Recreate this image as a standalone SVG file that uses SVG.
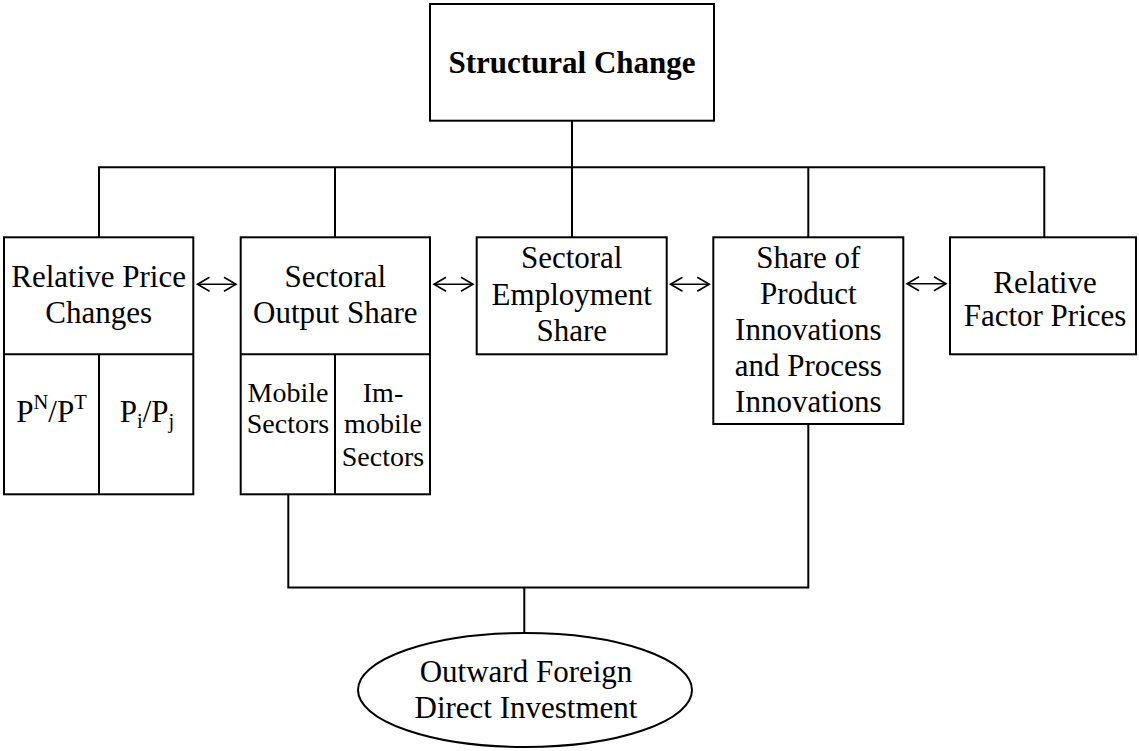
<svg xmlns="http://www.w3.org/2000/svg" width="1139" height="751" viewBox="0 0 1139 751">
<style>
.box{fill:#fff;stroke:#000;stroke-width:2}
.ln{fill:none;stroke:#000;stroke-width:2}
.ar{fill:none;stroke:#000;stroke-width:1.6}
text{font-family:"Liberation Serif","Times New Roman",serif;font-size:31px;fill:#000;text-anchor:middle}
.b{font-weight:bold}
.s{font-size:28px}
</style>
<defs>
<marker id="head" markerUnits="userSpaceOnUse" viewBox="-1 -1 14 16" refX="12" refY="7" markerWidth="14" markerHeight="16" orient="auto-start-reverse" overflow="visible">
<path d="M0,0 L12,7 L0,14" fill="none" stroke="#000" stroke-width="1.6"/>
</marker>
</defs>
<rect width="1139" height="751" fill="#fff"/>
<g id="connectors">
<path class="ln" d="M572,120.7 V167.3 M99,237.3 V167.3 H1044.3 V237.3 M335,167.3 V237.3 M572,167.3 V237.3 M808.3,167.3 V237.3"/>
<path class="ln" d="M288.3,494.3 V587.5 H808.3 V424 M524.3,587.5 V633"/>
<line class="ar" x1="197.5" y1="284.3" x2="236" y2="284.3" marker-start="url(#head)" marker-end="url(#head)"/>
<line class="ar" x1="434" y1="284.3" x2="473" y2="284.3" marker-start="url(#head)" marker-end="url(#head)"/>
<line class="ar" x1="670.5" y1="284.3" x2="709.3" y2="284.3" marker-start="url(#head)" marker-end="url(#head)"/>
<line class="ar" x1="907" y1="283.8" x2="946" y2="283.8" marker-start="url(#head)" marker-end="url(#head)"/>
</g>
<g id="structural-change">
<rect class="box" x="430" y="4" width="284" height="116.7"/>
<text class="b" x="572" y="72.7">Structural Change</text>
</g>
<g id="relative-price-changes">
<rect class="box" x="4" y="237.3" width="189.3" height="257"/>
<path class="ln" d="M4,354.3 H193.3 M99,354.3 V494.3"/>
<text x="98.6" y="286.7">Relative Price</text>
<text x="98.6" y="323.3">Changes</text>
<text x="51.5" y="421.7">P<tspan font-size="20.5" dy="-13">N</tspan><tspan dy="13">/P</tspan><tspan font-size="20.5" dy="-13">T</tspan></text>
<text x="147" y="421.7">P<tspan font-size="20.5" dy="6">i</tspan><tspan dy="-6">/P</tspan><tspan font-size="20.5" dy="6">j</tspan></text>
</g>
<g id="sectoral-output-share">
<rect class="box" x="240.7" y="237.3" width="189.3" height="257"/>
<path class="ln" d="M240.7,354.3 H430 M335,354.3 V494.3"/>
<text x="335.3" y="286.7">Sectoral</text>
<text x="335.3" y="323.3">Output Share</text>
<text class="s" x="288" y="401.7">Mobile</text>
<text class="s" x="288" y="433.3">Sectors</text>
<text class="s" x="383" y="401.7">Im-</text>
<text class="s" x="383" y="433.3">mobile</text>
<text class="s" x="383" y="466">Sectors</text>
</g>
<g id="sectoral-employment-share">
<rect class="box" x="476.7" y="237.3" width="190" height="117"/>
<text x="571.7" y="268.3">Sectoral</text>
<text x="571.7" y="304.7">Employment</text>
<text x="571.7" y="340.7">Share</text>
</g>
<g id="innovations">
<rect class="box" x="713.3" y="237.3" width="190" height="186.7"/>
<text x="808.3" y="268.3">Share of</text>
<text x="808.3" y="304.3">Product</text>
<text x="808.3" y="340.3">Innovations</text>
<text x="808.3" y="376.3">and Process</text>
<text x="808.3" y="412">Innovations</text>
</g>
<g id="relative-factor-prices">
<rect class="box" x="950" y="237.3" width="186" height="117"/>
<text x="1045" y="292.5">Relative</text>
<text x="1045" y="325.5">Factor Prices</text>
</g>
<g id="outward-fdi">
<ellipse class="box" cx="525" cy="690" rx="167" ry="57"/>
<text x="526" y="681.7">Outward Foreign</text>
<text x="526" y="718.3">Direct Investment</text>
</g>
</svg>
